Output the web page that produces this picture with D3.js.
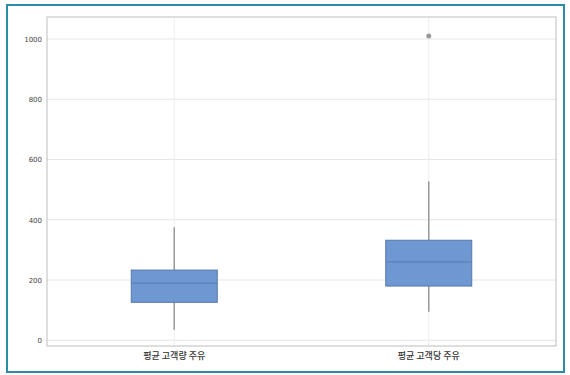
<!DOCTYPE html>
<html><head><meta charset="utf-8">
<script src="https://cdn.jsdelivr.net/npm/d3@7"></script>
<style>body{margin:0;background:#fff}svg{display:block}</style>
</head><body>
<svg id="c" width="570" height="375"></svg>
<script>
const categories = ["평균 고객량 주유", "평균 고객당 주유"];
const q1 = [126, 180];
const median = [190, 260];
const q3 = [233, 332];
const whiskerLow = [35, 95];
const whiskerHigh = [375, 528];
const outliers = [[], [1010]];
const yTicks = [0, 200, 400, 600, 800, 1000];

const svg = d3.select("#c");
svg.append("rect").attr("x", 7).attr("y", 5).attr("width", 557).attr("height", 367)
  .attr("fill", "#fff").attr("stroke", "#2a8ca8").attr("stroke-width", 2);

const L = 47, R = 556, T = 17, B = 346;
const y = d3.scaleLinear().domain([-19, 1073]).range([B, T]);
const x = d3.scaleBand().domain(categories).range([L, R]).padding(0);

const g = svg.append("g");
g.selectAll(".hg").data(yTicks).join("line")
  .attr("x1", L).attr("x2", R).attr("y1", d => y(d)).attr("y2", d => y(d))
  .attr("stroke", "#e6e6e6").attr("stroke-width", 1);
g.selectAll(".vg").data(categories).join("line")
  .attr("x1", d => x(d) + x.bandwidth()/2).attr("x2", d => x(d) + x.bandwidth()/2)
  .attr("y1", T).attr("y2", B).attr("stroke", "#eeeeee").attr("stroke-width", 1);

g.append("rect").attr("x", L).attr("y", T).attr("width", R - L).attr("height", B - T)
  .attr("fill", "none").attr("stroke", "#c8c8c8").attr("stroke-width", 1.2);

const ya = d3.axisLeft(y).tickValues(yTicks).tickFormat(d3.format("d")).tickSize(0).tickPadding(5);
const yg = svg.append("g").attr("transform", `translate(${L},0)`).call(ya);
yg.select(".domain").remove();
yg.selectAll("text").attr("font-family", "DejaVu Sans, sans-serif").attr("font-size", 7).attr("fill", "#444");

const xa = d3.axisBottom(x).tickSize(0).tickPadding(7);
const xg = svg.append("g").attr("transform", `translate(0,${B})`).call(xa);
xg.select(".domain").remove();
xg.selectAll("text").attr("font-family", "Noto Sans CJK KR, sans-serif").attr("font-size", 9).attr("font-weight", 500).attr("fill", "#333");

const bw = 86;
const data = categories.map((c, i) => ({c, q1: q1[i], med: median[i], q3: q3[i], lo: whiskerLow[i], hi: whiskerHigh[i], out: outliers[i]}));
const bg = svg.append("g");
data.forEach(d => {
  const cx = x(d.c) + x.bandwidth()/2;
  bg.append("line").attr("x1", cx).attr("x2", cx).attr("y1", y(d.hi)).attr("y2", y(d.q3)).attr("stroke", "#999").attr("stroke-width", 1.5);
  bg.append("line").attr("x1", cx).attr("x2", cx).attr("y1", y(d.q1)).attr("y2", y(d.lo)).attr("stroke", "#999").attr("stroke-width", 1.5);
  bg.append("rect").attr("x", cx - bw/2).attr("y", y(d.q3)).attr("width", bw).attr("height", y(d.q1) - y(d.q3))
    .attr("fill", "#6f97d2").attr("stroke", "#5578ad").attr("stroke-width", 1);
  bg.append("line").attr("x1", cx - bw/2).attr("x2", cx + bw/2).attr("y1", y(d.med)).attr("y2", y(d.med))
    .attr("stroke", "#5a80b8").attr("stroke-width", 1.2);
  d.out.forEach(o => {
    bg.append("circle").attr("cx", cx).attr("cy", y(o)).attr("r", 2.5).attr("fill", "#999").attr("stroke", "none");
  });
});
</script>
</body></html>
